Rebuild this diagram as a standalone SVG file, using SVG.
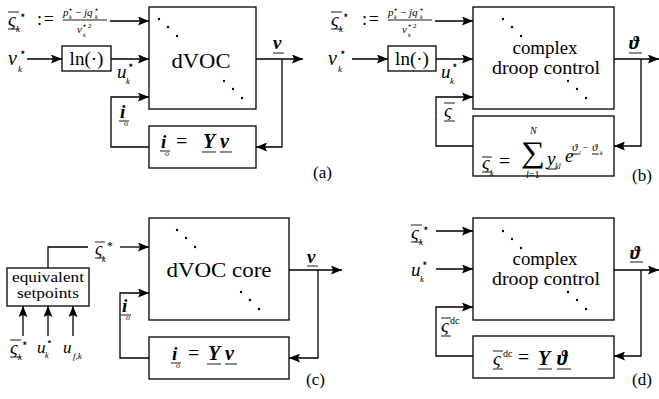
<svg xmlns="http://www.w3.org/2000/svg" width="659" height="399" viewBox="0 0 659 399" font-family="'Liberation Serif', 'Times New Roman', serif">
<style>
.box{fill:#fff;stroke:#000;stroke-width:1.3}
.w{fill:none;stroke:#000;stroke-width:1.3}
.a{marker-end:url(#ah)}
.t{font-family:'Liberation Serif','Times New Roman','DejaVu Serif',serif;fill:#000}
.i{font-style:italic}
.b{font-weight:bold}
.st{font-family:'DejaVu Sans',sans-serif;font-style:normal}
.r{stroke:#000;stroke-width:0.9}
.m{text-anchor:middle}
</style>
<defs>
<marker id="ah" markerUnits="userSpaceOnUse" markerWidth="12" markerHeight="9" refX="11" refY="4.5" orient="auto"><path d="M0,0 L11,4.5 L0,9 L2,4.5 Z" fill="#000"/></marker>
<g id="dots">
<circle cx="0" cy="0" r="1.2"/><circle cx="9" cy="8" r="1.2"/><circle cx="18" cy="17" r="1.2"/>
</g>
<g id="sigK">
<text class="t i" x="0" y="14" font-size="19">ς</text>
<line class="r" x1="0" y1="0" x2="11" y2="0"/>
<line class="r" x1="0" y1="17" x2="11" y2="17"/>
<text class="t st" x="11" y="7" font-size="12">⋆</text>
<text class="t i" x="8" y="20" font-size="9">k</text>
</g>
<g id="frac">
<text class="t i" x="0" y="4" font-size="11">p</text>
<text class="t st" x="5" y="0" font-size="8">⋆</text>
<text class="t i" x="6" y="7" font-size="6">k</text>
<text class="t" x="12" y="4" font-size="11">−</text>
<text class="t i" x="21" y="4" font-size="11">jq</text>
<text class="t st" x="31" y="0" font-size="8">⋆</text>
<text class="t i" x="32" y="7" font-size="6">k</text>
<line class="r" x1="0" y1="8" x2="44" y2="8" stroke-width="0.7"/>
<text class="t i" x="14" y="21" font-size="11">v</text>
<text class="t st" x="19" y="16" font-size="8">⋆</text>
<text class="t" x="25" y="16" font-size="7">2</text>
<text class="t i" x="20" y="25" font-size="6">k</text>
</g>
<g id="vk">
<text class="t i" x="0" y="0" font-size="20">v</text>
<text class="t st" x="11" y="-9" font-size="12">⋆</text>
<text class="t i" x="10" y="7" font-size="9">k</text>
</g>
<g id="uk">
<text class="t i" x="0" y="0" font-size="19">u</text>
<text class="t st" x="10" y="-9" font-size="12">⋆</text>
<text class="t i" x="9" y="6" font-size="9">k</text>
</g>
<g id="io">
<text class="t i b" x="0" y="0" font-size="19">i</text>
<line class="r" x1="-1" y1="3" x2="9" y2="3"/>
<text class="t i" x="4" y="8" font-size="8">o</text>
</g>
</defs>

<!-- ===== panel (a) ===== -->
<g id="a-dvoc">
<rect class="box" x="149" y="7" width="107" height="102"/>
<text class="t m" x="201" y="68" font-size="22" textLength="59" lengthAdjust="spacingAndGlyphs">dVOC</text>
<use href="#dots" x="159" y="19"/>
<use href="#dots" x="224" y="81"/>
</g>
<g id="a-ln">
<rect class="box" x="62" y="46" width="49" height="25"/>
<text class="t m" x="86.5" y="65" font-size="19">ln(·)</text>
</g>
<g id="a-yv">
<rect class="box" x="149" y="126" width="107" height="42"/>
<use href="#io" x="161" y="148"/>
<text class="t" x="176" y="148" font-size="20">=</text>
<text class="t i b" x="203" y="148" font-size="20">Y</text>
<text class="t i b" x="220" y="148" font-size="20">v</text>
<line class="r" x1="202" y1="152" x2="216" y2="152"/>
<line class="r" x1="220" y1="152" x2="232" y2="152"/>
</g>
<g id="a-labels">
<use href="#sigK" x="8" y="12"/>
<text class="t" x="37" y="25" font-size="18" textLength="17">:=</text>
<use href="#frac" x="63" y="12"/>
<use href="#vk" x="8" y="65"/>
<use href="#uk" x="117" y="78"/>
<use href="#io" x="120" y="118"/>
<text class="t i b" x="273" y="49" font-size="19">v</text>
<line class="r" x1="273" y1="53" x2="284" y2="53"/>
<text class="t" x="313" y="178" font-size="17">(a)</text>
</g>

<!-- ===== panel (b) ===== -->
<g id="b-droop">
<rect class="box" x="473" y="7" width="141" height="102"/>
<text class="t m" x="545" y="54" font-size="18" textLength="65" lengthAdjust="spacingAndGlyphs">complex</text>
<text class="t m" x="546" y="74" font-size="18" textLength="108" lengthAdjust="spacingAndGlyphs">droop control</text>
<use href="#dots" x="503" y="19"/>
<use href="#dots" x="568" y="81"/>
</g>
<g id="b-ln">
<rect class="box" x="388" y="46" width="48" height="25"/>
<text class="t m" x="412" y="65" font-size="19">ln(·)</text>
</g>
<g id="b-sum">
<rect class="box" x="473" y="116" width="141" height="60"/>
<text class="t i" x="482" y="169" font-size="19">ς</text>
<line class="r" x1="482" y1="157" x2="492" y2="157"/>
<line class="r" x1="482" y1="172" x2="492" y2="172"/>
<text class="t i" x="490" y="176" font-size="8">k</text>
<text class="t" x="499" y="168" font-size="20">=</text>
<text class="t" x="521" y="162" font-size="30" textLength="24" lengthAdjust="spacingAndGlyphs">∑</text>
<text class="t i" x="530" y="134" font-size="10">N</text>
<text class="t" x="526" y="178" font-size="10"><tspan class="i">l</tspan>=1</text>
<text class="t i" x="547" y="165" font-size="19">y</text>
<line class="r" x1="547" y1="169" x2="557" y2="169"/>
<text class="t i" x="555" y="169" font-size="8">kl</text>
<text class="t i" x="565" y="162" font-size="19">e</text>
<text class="t i" x="572" y="151" font-size="11">ϑ</text>
<line class="r" x1="572" y1="154" x2="579" y2="154" stroke-width="0.6"/>
<text class="t i" x="579" y="155" font-size="6">l</text>
<text class="t" x="583" y="151" font-size="10">−</text>
<text class="t i" x="592" y="151" font-size="11">ϑ</text>
<line class="r" x1="592" y1="154" x2="599" y2="154" stroke-width="0.6"/>
<text class="t i" x="600" y="155" font-size="6">k</text>
</g>
<g id="b-labels">
<use href="#sigK" x="331" y="12"/>
<text class="t" x="362" y="25" font-size="18" textLength="17">:=</text>
<use href="#frac" x="388" y="12"/>
<use href="#vk" x="328" y="65"/>
<use href="#uk" x="441" y="78"/>
<text class="t i" x="444" y="117" font-size="19">ς</text>
<line class="r" x1="444" y1="103" x2="455" y2="103"/>
<line class="r" x1="444" y1="121" x2="455" y2="121"/>
<text class="t i b" x="629" y="49" font-size="19">ϑ</text>
<line class="r" x1="629" y1="53" x2="642" y2="53"/>
<text class="t" x="632" y="181" font-size="17">(b)</text>
</g>

<!-- ===== panel (c) ===== -->
<g id="c-dvoc">
<rect class="box" x="149" y="218" width="140" height="102"/>
<text class="t m" x="219" y="277" font-size="22" textLength="105" lengthAdjust="spacingAndGlyphs">dVOC core</text>
<use href="#dots" x="177" y="230"/>
<use href="#dots" x="241" y="292"/>
</g>
<g id="c-eq">
<rect class="box" x="7" y="268" width="82" height="38"/>
<text class="t m" x="48" y="282" font-size="14" textLength="72" lengthAdjust="spacingAndGlyphs">equivalent</text>
<text class="t m" x="48" y="298" font-size="14" textLength="62" lengthAdjust="spacingAndGlyphs">setpoints</text>
</g>
<g id="c-yv">
<rect class="box" x="149" y="337" width="140" height="42"/>
<use href="#io" x="172" y="360"/>
<text class="t" x="188" y="360" font-size="20">=</text>
<text class="t i b" x="208" y="360" font-size="20">Y</text>
<text class="t i b" x="225" y="360" font-size="20">v</text>
<line class="r" x1="207" y1="364" x2="221" y2="364"/>
<line class="r" x1="225" y1="364" x2="237" y2="364"/>
</g>
<g id="c-labels">
<text class="t i" x="95" y="255" font-size="18">ς</text>
<line class="r" x1="95" y1="242" x2="105" y2="242"/>
<line class="r" x1="95" y1="258" x2="105" y2="258"/>
<text class="t" x="107" y="250" font-size="12">*</text>
<text class="t i" x="102" y="262" font-size="8">k</text>
<use href="#sigK" x="10" y="340"/>
<g transform="translate(37,353) scale(0.9)"><use href="#uk"/></g>
<text class="t i" x="63" y="353" font-size="17">u</text>
<text class="t i" x="73" y="359" font-size="9">f,k</text>
<use href="#io" x="122" y="312"/>
<text class="t i b" x="307" y="263" font-size="19">v</text>
<line class="r" x1="307" y1="266" x2="318" y2="266"/>
<text class="t" x="306" y="385" font-size="17">(c)</text>
</g>

<!-- ===== panel (d) ===== -->
<g id="d-droop">
<rect class="box" x="473" y="218" width="141" height="102"/>
<text class="t m" x="545" y="265" font-size="18" textLength="65" lengthAdjust="spacingAndGlyphs">complex</text>
<text class="t m" x="546" y="285" font-size="18" textLength="108" lengthAdjust="spacingAndGlyphs">droop control</text>
<use href="#dots" x="503" y="231"/>
<use href="#dots" x="568" y="292"/>
</g>
<g id="d-yt">
<rect class="box" x="473" y="336" width="141" height="42"/>
<text class="t i" x="493" y="365" font-size="19">ς</text>
<line class="r" x1="493" y1="351" x2="503" y2="351"/>
<line class="r" x1="493" y1="369" x2="503" y2="369"/>
<text class="t" x="503" y="357" font-size="10">dc</text>
<text class="t" x="518" y="364" font-size="20">=</text>
<text class="t i b" x="538" y="365" font-size="20">Y</text>
<line class="r" x1="538" y1="369" x2="552" y2="369"/>
<text class="t i b" x="557" y="365" font-size="20">ϑ</text>
<line class="r" x1="557" y1="369" x2="571" y2="369"/>
</g>
<g id="d-labels">
<use href="#sigK" x="411" y="225"/>
<use href="#uk" x="411" y="276"/>
<text class="t i" x="441" y="332" font-size="19">ς</text>
<line class="r" x1="441" y1="318" x2="451" y2="318"/>
<line class="r" x1="441" y1="336" x2="451" y2="336"/>
<text class="t" x="450" y="324" font-size="10">dc</text>
<text class="t i b" x="630" y="259" font-size="19">ϑ</text>
<line class="r" x1="630" y1="262" x2="643" y2="262"/>
<text class="t" x="632" y="385" font-size="17">(d)</text>
</g>

<!-- ===== connectors ===== -->
<g id="connectors">
<path class="w a" d="M27,59 H62"/>
<path class="w a" d="M110,21 H149"/>
<path class="w a" d="M111,59 H149"/>
<path class="w a" d="M149,147 H111 V97 H149"/>
<path class="w a" d="M256,59 H303"/>
<path class="w a" d="M282,59 V147 H256"/>
<path class="w a" d="M352,59 H388"/>
<path class="w a" d="M435,21 H473"/>
<path class="w a" d="M436,59 H473"/>
<path class="w a" d="M473,146 H436 V97 H473"/>
<path class="w a" d="M614,59 H659"/>
<path class="w a" d="M641,59 V146 H614"/>
<path class="w" d="M48,268 V247 H88"/>
<path class="w a" d="M120,247 H149"/>
<path class="w a" d="M23,336 V306"/>
<path class="w a" d="M48,336 V306"/>
<path class="w a" d="M73,336 V306"/>
<path class="w a" d="M149,358 H120 V293 H149"/>
<path class="w a" d="M289,270 H342"/>
<path class="w a" d="M318,270 V358 H289"/>
<path class="w a" d="M436,231 H473"/>
<path class="w a" d="M436,269 H473"/>
<path class="w a" d="M473,356 H436 V307 H473"/>
<path class="w a" d="M614,270 H659"/>
<path class="w a" d="M641,270 V356 H614"/>
</g>
</svg>
